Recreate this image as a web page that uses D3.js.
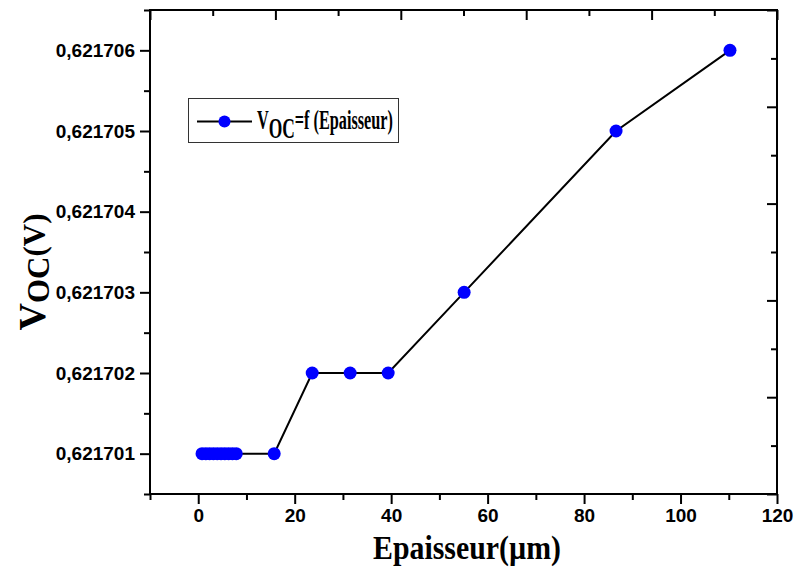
<!DOCTYPE html>
<html>
<head>
<meta charset="utf-8">
<script src="https://cdn.jsdelivr.net/npm/d3@7"></script>
<style>
  html, body { margin: 0; padding: 0; background: #fff; }
  svg { display: block; }
</style>
</head>
<body>
<svg id="chart" width="796" height="577"></svg>
<script>
// Open-circuit voltage against layer thickness
const thickness = [0.79, 1.58, 2.36, 3.15, 3.94, 4.73, 5.51, 6.30, 7.09, 7.88,
                   15.75, 23.63, 31.50, 39.38, 55.13, 86.63, 110.25];
const voc = [0.621701, 0.621701, 0.621701, 0.621701, 0.621701, 0.621701, 0.621701,
             0.621701, 0.621701, 0.621701, 0.621701, 0.621702, 0.621702, 0.621702,
             0.621703, 0.621705, 0.621706];

const xTicks = [0, 20, 40, 60, 80, 100, 120];
const xMinorTicks = [-10, 10, 30, 50, 70, 90, 110];
const yTicks = [0.621701, 0.621702, 0.621703, 0.621704, 0.621705, 0.621706];
const yMinorTicks = [0.6217005, 0.6217015, 0.6217025, 0.6217035, 0.6217045, 0.6217055, 0.6217065];

const legendLabel = ["V", "OC", "=f (Epaisseur)"];
const xTitle = "Epaisseur(µm)";
const yTitle = ["V", "OC", "(V)"];

const svg = d3.select("#chart");
const margin = { left: 150, top: 10, right: 796 - 777, bottom: 577 - 494 };
const W = 796 - margin.left - margin.right;
const H = 577 - margin.top - margin.bottom;

const x = d3.scaleLinear().domain([-10, 120]).range([0, W]);
const y = d3.scaleLinear().domain([0.6217005, 0.6217065]).range([H, 0]);

const g = svg.append("g").attr("transform", `translate(${margin.left},${margin.top})`);

const sans = "'Liberation Sans', Arial, sans-serif";
const serif = "'Liberation Serif', 'Times New Roman', serif";

function styleAxis(sel) {
  sel.select(".domain").remove();
  sel.selectAll(".tick line").attr("stroke", "#000").attr("stroke-width", 2);
  sel.selectAll(".tick text")
    .attr("font-family", sans).attr("font-weight", "bold")
    .attr("font-size", 19).attr("fill", "#000");
}

// bottom axis (ticks outward)
g.append("g").attr("transform", `translate(0,${H})`)
  .call(d3.axisBottom(x).tickValues(xMinorTicks).tickSize(6).tickFormat(""))
  .call(styleAxis);
g.append("g").attr("transform", `translate(0,${H})`)
  .call(d3.axisBottom(x).tickValues(xTicks).tickSize(10).tickPadding(5).tickFormat(d3.format("d")))
  .call(styleAxis);

// left axis (ticks outward)
const fmtY = v => d3.format(".6f")(v).replace(".", ",");
g.append("g")
  .call(d3.axisLeft(y).tickValues(yMinorTicks).tickSize(6).tickFormat(""))
  .call(styleAxis);
g.append("g")
  .call(d3.axisLeft(y).tickValues(yTicks).tickSize(10).tickPadding(5).tickFormat(fmtY))
  .call(styleAxis);

// top and right axes: inward ticks on a unit scale
const u = d3.scaleLinear().domain([0, 1]);
const uMajor = [0, 0.2, 0.4, 0.6, 0.8, 1];
const uMinor = [0.1, 0.3, 0.5, 0.7, 0.9];
g.append("g").call(d3.axisTop(u.copy().range([0, W])).tickValues(uMajor).tickSize(-10).tickFormat("")).call(styleAxis);
g.append("g").call(d3.axisTop(u.copy().range([0, W])).tickValues(uMinor).tickSize(-6).tickFormat("")).call(styleAxis);
g.append("g").attr("transform", `translate(${W},0)`)
  .call(d3.axisRight(u.copy().range([H, 0])).tickValues(uMajor).tickSize(-10).tickFormat("")).call(styleAxis);
g.append("g").attr("transform", `translate(${W},0)`)
  .call(d3.axisRight(u.copy().range([H, 0])).tickValues(uMinor).tickSize(-6).tickFormat("")).call(styleAxis);

// frame
g.append("rect").attr("x", 0).attr("y", 0).attr("width", W).attr("height", H)
  .attr("fill", "none").attr("stroke", "#000").attr("stroke-width", 2);

// data line and markers
const pts = thickness.map((t, i) => [t, voc[i]]);
g.append("path").datum(pts)
  .attr("fill", "none").attr("stroke", "#000").attr("stroke-width", 2)
  .attr("d", d3.line().x(d => x(d[0])).y(d => y(d[1])));
g.selectAll("circle.pt").data(pts).join("circle").attr("class", "pt")
  .attr("cx", d => x(d[0])).attr("cy", d => y(d[1])).attr("r", 6.5)
  .attr("fill", "#0000ff");

// squeeze a text block horizontally so it spans the given width from its left x
function fitWidth(sel, x0, width) {
  const bb = sel.node().getBBox();
  const k = Math.min(1, width / bb.width);
  sel.attr("transform", `translate(${x0},0) scale(${k},1) translate(${-bb.x},0)`);
}

// legend
const lg = svg.append("g");
lg.append("rect").attr("x", 188.5).attr("y", 98.5).attr("width", 210).attr("height", 44)
  .attr("fill", "#fff").attr("stroke", "#333").attr("stroke-width", 1);
lg.append("line").attr("x1", 197).attr("x2", 252).attr("y1", 121.5).attr("y2", 121.5)
  .attr("stroke", "#000").attr("stroke-width", 2);
lg.append("circle").attr("cx", 224.5).attr("cy", 121.5).attr("r", 6).attr("fill", "#0000ff");
const ltg = lg.append("g");
const lt = ltg.append("text").attr("x", 0).attr("y", 129)
  .attr("font-family", serif).attr("font-weight", "bold").attr("fill", "#000");
lt.append("tspan").attr("font-size", 27).text(legendLabel[0]);
lt.append("tspan").attr("font-size", 29).attr("dy", 9).text(legendLabel[1]);
lt.append("tspan").attr("font-size", 27).attr("dy", -9).text(legendLabel[2]);
fitWidth(ltg, 257, 136);

// axis titles
const xtg = svg.append("g");
xtg.append("text").attr("x", 0).attr("y", 559)
  .attr("font-family", serif).attr("font-weight", "bold").attr("font-size", 33)
  .attr("fill", "#000").text(xTitle);
fitWidth(xtg, 373, 188);

const yt = svg.append("text").attr("transform", "translate(45,272) rotate(-90)")
  .attr("text-anchor", "middle")
  .attr("font-family", serif).attr("font-weight", "bold").attr("fill", "#000");
yt.append("tspan").attr("font-size", 38).text(yTitle[0]);
yt.append("tspan").attr("font-size", 31).attr("dy", 4).text(yTitle[1]);
yt.append("tspan").attr("font-size", 31).attr("dy", -4).text(yTitle[2]);
</script>
</body>
</html>
